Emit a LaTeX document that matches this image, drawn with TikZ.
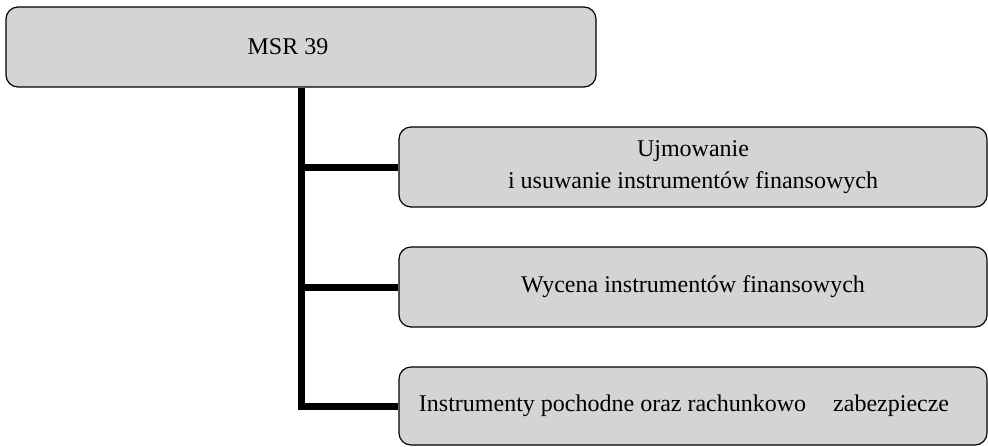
\documentclass[tikz,border=0pt]{standalone}
\usepackage{fontspec}
\setmainfont{Liberation Serif}
\definecolor{boxgrey}{HTML}{D3D4D6}
\begin{document}
\begin{tikzpicture}[x=0.5pt,y=-0.5pt,
    box/.style={draw, rounded corners=6pt, fill=boxgrey, line width=0.6pt, minimum width=294pt, minimum height=40pt, inner sep=2pt, font=\fontsize{12}{16}\selectfont},
    link/.style={line width=3.5pt}]
  \useasboundingbox (0,0) rectangle (988,446);
  \node[box, minimum width=295pt] (msr) at (301,47) {MSR 39\hspace*{13pt}};
  \node[box, align=center] (ujm) at (693,167) {Ujmowanie\\i usuwanie instrumentów finansowych};
  \node[box] (wyc) at (693,287) {Wycena instrumentów finansowych};
  \node[box, minimum height=39pt] (inst) at (693,406) {Instrumenty pochodne oraz rachunkowo\hspace*{10.5pt} zabezpiecze\hspace*{9pt}};
  \draw[link] (msr.south) |- (inst.west);
  \draw[link] (msr.south |- ujm.west) -- (ujm.west);
  \draw[link] (msr.south |- wyc.west) -- (wyc.west);
\end{tikzpicture}
\end{document}
